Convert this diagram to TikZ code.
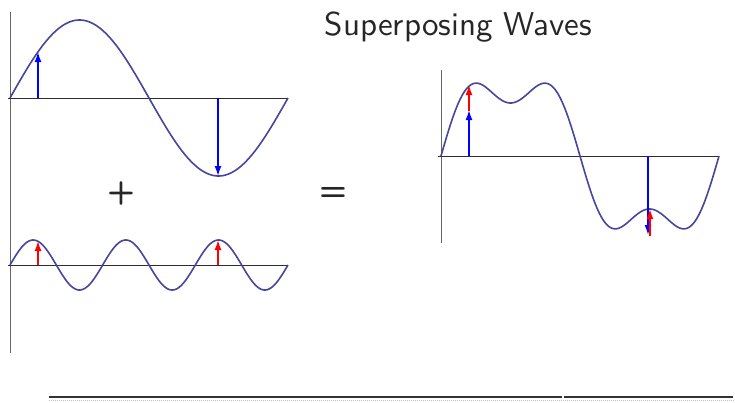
\documentclass[tikz,border=0pt]{standalone}
\usepackage{graphicx}
\usetikzlibrary{arrows.meta}
\definecolor{wavecol}{RGB}{70,70,155}
\definecolor{axcol}{RGB}{45,45,45}
\begin{document}
\begin{tikzpicture}[x=1pt,y=-1pt,
  wave/.style={draw=wavecol,line width=1.6pt},
  axis/.style={draw=axcol,line width=0.9pt},
  barrow/.style={draw=blue,line width=1.6pt,-{Latex[length=10pt,width=7pt]}},
  rarrow/.style={draw=red,line width=1.6pt,-{Latex[length=10pt,width=7pt]}},
  bigtxt/.style={font=\sffamily\fontsize{10}{12}\selectfont,inner sep=0pt,text=black!85}]
\useasboundingbox (0,0) rectangle (735,402);
\fill[white] (0,0) rectangle (735,402);
% left axes
\coordinate (lvt) at (10,12); \coordinate (lvb) at (10,353);
\draw[axis,draw=black!60] (lvt) -- (lvb);
\coordinate (la1) at (8,98); \coordinate (la2) at (288,98);
\draw[axis] (la1) -- (la2);
\coordinate (lb1) at (8,265); \coordinate (lb2) at (288,265);
\draw[axis] (lb1) -- (lb2);
% right axes
\coordinate (rvt) at (441,70); \coordinate (rvb) at (441,243);
\draw[axis,draw=black!60] (rvt) -- (rvb);
\coordinate (ra1) at (438,156); \coordinate (ra2) at (718,156);
\draw[axis] (ra1) -- (ra2);
% waves
\draw[wave] plot[domain=0:278,samples=200,smooth] ({10+\x},{98-78*sin(\x*1.294964)});
\draw[wave] plot[domain=0:278,samples=240,smooth] ({10+\x},{265-25*sin(3*\x*1.294964)});
\draw[wave] plot[domain=0:278,samples=300,smooth] ({441+\x},{156-78*sin(\x*1.294964)-25*sin(3*\x*1.294964)});
% left arrows
\coordinate (a1s) at (38,98); \coordinate (a1e) at (38,52);
\draw[barrow] (a1s) -- (a1e);
\coordinate (a2s) at (218,98); \coordinate (a2e) at (218,176);
\draw[barrow] (a2s) -- (a2e);
\coordinate (a3s) at (38,265); \coordinate (a3e) at (38,241);
\draw[rarrow] (a3s) -- (a3e);
\coordinate (a4s) at (218,265); \coordinate (a4e) at (218,240);
\draw[rarrow] (a4s) -- (a4e);
% right arrows
\coordinate (b1s) at (469,156); \coordinate (b1e) at (469,110);
\draw[barrow] (b1s) -- (b1e);
\coordinate (b2s) at (469,111); \coordinate (b2e) at (469,85);
\draw[rarrow] (b2s) -- (b2e);
\coordinate (b3s) at (648,156); \coordinate (b3e) at (648,235);
\draw[barrow] (b3s) -- (b3e);
\coordinate (b4s) at (650,236); \coordinate (b4e) at (650,209);
\draw[rarrow] (b4s) -- (b4e);
% texts
\node[bigtxt,anchor=base] (title) at (458.5,35) {\scalebox{3.3}{Superposing Waves}};
\node[bigtxt] (plus) at (121,193.5) {\scalebox{3.2}{\bfseries +}};
\node[bigtxt] (eq) at (333,193.5) {\scalebox{3.2}{\bfseries =}};
% bottom rule
\coordinate (r1) at (49,397); \coordinate (r2) at (562,397);
\coordinate (r3) at (564,397); \coordinate (r4) at (733,397);
\draw[black!80,line width=1.4pt] (r1) -- (r2);
\draw[black!80,line width=1.4pt] (r3) -- (r4);
\coordinate (s1) at (49,399.8); \coordinate (s2) at (735,399.8);
\draw[black!25,line width=0.6pt,dash pattern=on 1pt off 1pt] (s1) -- (s2);
\end{tikzpicture}
\end{document}
